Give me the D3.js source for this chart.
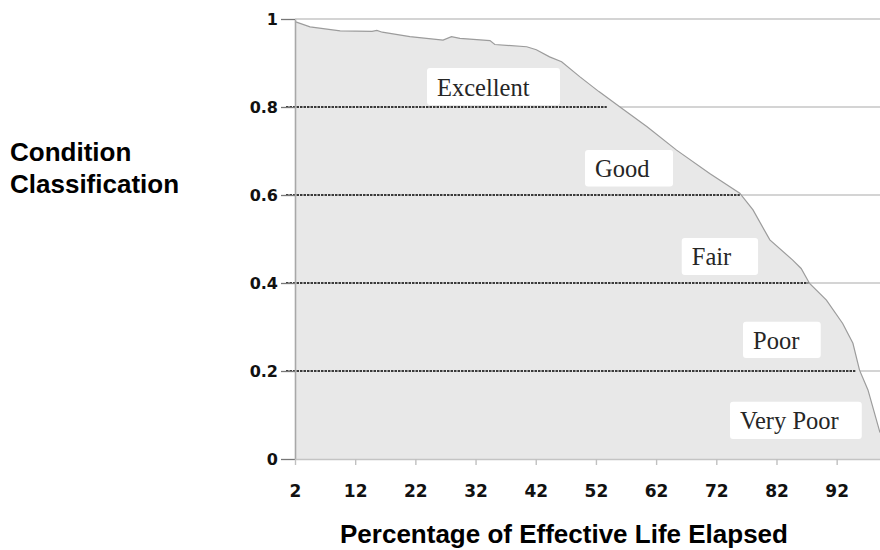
<!DOCTYPE html>
<html>
<head>
<meta charset="utf-8">
<script src="https://cdn.jsdelivr.net/npm/d3@7"></script>
<style>
  html, body { margin: 0; padding: 0; background: #ffffff; }
  svg { display: block; }
</style>
</head>
<body>
<svg id="chart" width="880" height="550"></svg>
<script>
// ---- Data ----
const lifeElapsed = [2, 4.5, 9.5, 14.8, 15.6, 16.5, 21.1, 26.6, 28.0, 29.4, 34.4, 35.2, 40.5, 42.1, 44.3, 46.3, 49.3, 52.5, 56.0, 60.5, 65.4, 70.9, 75.9, 78.1, 80.9, 84.7, 86.1, 87.5, 90.3, 93.0, 94.7, 95.8, 97.2, 99.2];
const condition   = [0.994, 0.982, 0.973, 0.972, 0.974, 0.970, 0.960, 0.952, 0.960, 0.956, 0.951, 0.942, 0.937, 0.930, 0.914, 0.903, 0.869, 0.835, 0.800, 0.755, 0.702, 0.649, 0.604, 0.566, 0.498, 0.452, 0.433, 0.399, 0.361, 0.308, 0.263, 0.202, 0.157, 0.060];
const xTickValues = [2, 12, 22, 32, 42, 52, 62, 72, 82, 92];
const yTickValues = [0, 0.2, 0.4, 0.6, 0.8, 1];
const yTickLabels = ["0", "0.2", "0.4", "0.6", "0.8", "1"];
const classNames  = ["Excellent", "Good", "Fair", "Poor", "Very Poor"];
const thresholds  = [0.8, 0.6, 0.4, 0.2];
const thresholdEnds = [53.8, 75.9, 87.3, 95.1];   // % life where each dotted band line stops

// ---- Layout (annotation boxes in data coordinates) ----
const boxLeft   = [23.93, 50.19, 66.26, 76.44, 74.28];
const boxRight  = [46.03, 64.81, 78.94, 89.35, 96.17];
const boxTop    = [0.8886, 0.7023, 0.5023, 0.312, 0.1302];
const boxBottom = [0.8045, 0.6193, 0.4182, 0.2295, 0.0455];

const svg = d3.select("#chart");
const x = d3.scaleLinear().domain([2, 99.2]).range([295, 880]);
const y = d3.scaleLinear().domain([0, 1]).range([459, 19]);

const points = lifeElapsed.map((v, i) => [v, condition[i]]);

// solid gridlines
svg.append("g").selectAll("line")
  .data(yTickValues.filter(d => d > 0))
  .join("line")
  .attr("x1", x(2)).attr("x2", 880)
  .attr("y1", d => y(d)).attr("y2", d => y(d))
  .attr("stroke", "#c6c6c6").attr("stroke-width", 1.6);

// area under curve
const area = d3.area().x(d => x(d[0])).y0(y(0)).y1(d => y(d[1]));
svg.append("path").datum(points)
  .attr("d", area).attr("fill", "#e8e8e8");

const line = d3.line().x(d => x(d[0])).y(d => y(d[1]));
svg.append("path").datum(points)
  .attr("d", line).attr("fill", "none")
  .attr("stroke", "#9c9c9c").attr("stroke-width", 1.2);

// dotted threshold lines
svg.append("g").selectAll("line")
  .data(thresholds)
  .join("line")
  .attr("x1", x(2) - 9).attr("x2", (d, i) => x(thresholdEnds[i]))
  .attr("y1", d => y(d)).attr("y2", d => y(d))
  .attr("stroke", "#3a3a3a").attr("stroke-width", 1.8)
  .attr("stroke-dasharray", "2.5,1");

// Y axis
const yAxis = svg.append("g")
  .attr("transform", `translate(${x(2)},0)`)
  .call(d3.axisLeft(y).tickValues(yTickValues)
    .tickFormat((d, i) => yTickLabels[i]).tickSize(14).tickSizeOuter(0).tickPadding(3));
yAxis.select(".domain").attr("stroke", "#a8a8a8").attr("stroke-width", 1.6);
yAxis.selectAll(".tick line").attr("stroke", "#777").attr("stroke-width", 1.3);
yAxis.selectAll("text")
  .attr("font-family", "'DejaVu Sans', Verdana, sans-serif")
  .attr("font-weight", "bold").attr("font-size", 16).attr("fill", "#111");

// X axis
const xAxis = svg.append("g")
  .attr("transform", `translate(0,${y(0)})`)
  .call(d3.axisBottom(x).tickValues(xTickValues).tickSize(6).tickSizeOuter(0).tickPadding(20));
xAxis.select(".domain").attr("stroke", "#c4c4c4").attr("stroke-width", 1.6);
xAxis.selectAll(".tick line").attr("stroke", "#c0c0c0").attr("stroke-width", 1.4);
xAxis.selectAll("text")
  .attr("font-family", "'DejaVu Sans', Verdana, sans-serif")
  .attr("font-weight", "bold").attr("font-size", 17).attr("fill", "#111");

// class label boxes
const lab = svg.append("g").selectAll("g")
  .data(classNames).join("g");
lab.append("rect")
  .attr("x", (d, i) => x(boxLeft[i]))
  .attr("y", (d, i) => y(boxTop[i]))
  .attr("width", (d, i) => x(boxRight[i]) - x(boxLeft[i]))
  .attr("height", (d, i) => y(boxBottom[i]) - y(boxTop[i]))
  .attr("rx", 3).attr("fill", "#ffffff");
lab.append("text")
  .attr("x", (d, i) => x(boxLeft[i]) + 10)
  .attr("y", (d, i) => y(boxBottom[i]) - 9.5)
  .attr("font-family", "'Liberation Serif', 'Times New Roman', serif")
  .attr("font-size", 24.5).attr("fill", "#262626")
  .text(d => d);

// axis titles
const yt = svg.append("text")
  .attr("font-family", "'Liberation Sans', Arial, sans-serif")
  .attr("font-weight", "bold").attr("font-size", 26).attr("fill", "#000");
yt.append("tspan").attr("x", 10).attr("y", 160.5).text("Condition");
yt.append("tspan").attr("x", 10).attr("y", 192.5).text("Classification");

svg.append("text")
  .attr("x", 564).attr("y", 543).attr("text-anchor", "middle")
  .attr("font-family", "'Liberation Sans', Arial, sans-serif")
  .attr("font-weight", "bold").attr("font-size", 26).attr("fill", "#000")
  .text("Percentage of Effective Life Elapsed");
</script>
</body>
</html>
